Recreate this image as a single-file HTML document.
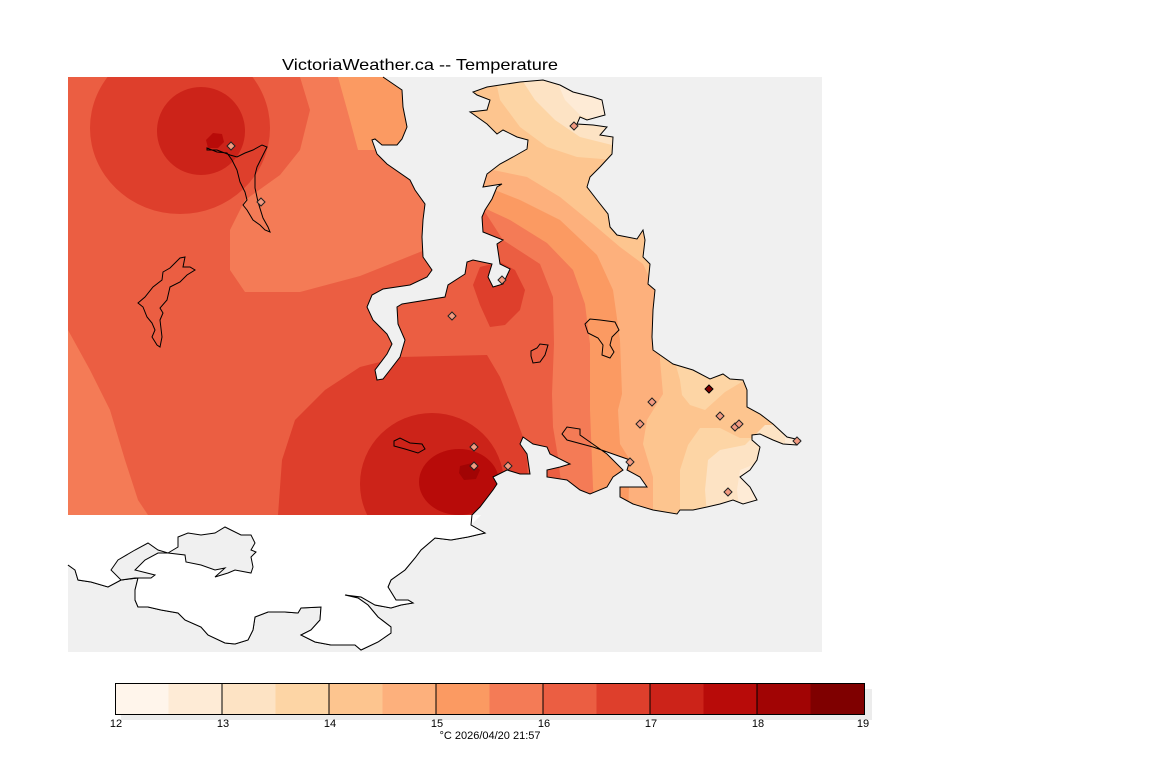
<!DOCTYPE html>
<html><head><meta charset="utf-8"><style>
html,body{margin:0;padding:0;background:#fff;}
svg{display:block;font-family:"Liberation Sans",sans-serif;}
</style></head><body>
<svg width="1152" height="768" viewBox="0 0 1152 768" xmlns="http://www.w3.org/2000/svg">
<defs>
<clipPath id="land"><path d="M68,77 L383,77 402,90 403,107 407,127 402,139 397,145 382,145 375,139 372,140 377,154 387,164 410,180 415,190 425,204 423,220 422,237 423,257 432,270 427,277 410,285 383,289 372,295 367,307 373,320 387,334 392,344 387,354 375,370 377,380 383,379 390,370 400,357 405,340 398,324 397,307 402,304 445,297 448,285 465,274 467,262 473,260 492,264 488,277 493,287 503,284 510,269 500,264 497,244 503,240 483,232 482,217 485,210 492,199 497,187 502,184 483,187 487,174 500,164 513,157 527,149 528,140 517,137 503,130 497,134 487,124 473,114 470,112 487,110 490,100 477,95 473,92 487,87 520,82 543,80 560,85 573,92 593,97 602,100 605,115 587,120 580,117 577,124 593,125 607,127 600,135 613,137 612,154 600,167 590,177 587,187 597,200 608,214 610,227 617,235 637,239 643,230 645,240 643,257 650,264 648,284 655,290 653,310 652,337 653,350 673,364 693,370 710,379 723,374 730,379 743,380 747,390 747,407 760,414 773,424 787,437 800,440 797,445 783,444 773,440 760,434 752,435 752,440 760,447 757,460 750,470 740,477 750,487 757,500 743,504 733,500 720,504 707,507 693,510 680,510 677,514 653,510 633,504 620,497 620,487 647,487 640,477 627,470 630,460 593,447 567,440 562,434 567,427 580,429 580,435 607,454 623,470 613,477 607,487 590,494 580,490 567,480 547,477 547,470 560,467 570,464 550,454 547,447 533,444 523,437 520,444 527,454 530,474 520,474 507,470 493,477 497,484 493,490 480,507 472,515 68,515 Z"/></clipPath>
</defs>
<rect x="68" y="77" width="754" height="575" fill="#f0f0f0"/>
<g clip-path="url(#land)">
<rect x="68" y="77" width="754" height="438" fill="#eb5e42"/>
<!-- west 15.5 -->
<path d="M300,77 L310,110 300,150 280,175 245,200 230,230 230,270 245,292 300,292 360,276 425,250 460,240 460,77 Z" fill="#f47b56"/>
<path d="M338,77 L350,120 358,150 420,150 420,77 Z" fill="#fb9a62"/>
<!-- top-left circles -->
<ellipse cx="180" cy="128" rx="90" ry="86" fill="#de3f2c"/>
<circle cx="201" cy="131" r="44" fill="#cc2319"/>
<path d="M213,133 L222,134 224,142 218,148 208,148 206,140 Z" fill="#b80b09"/>
<!-- bottom-left 15.5 -->
<path d="M68,330 L90,370 110,410 125,460 138,500 148,515 68,515 Z" fill="#f47b56"/>
<!-- bottom blobs -->
<path d="M278,515 L282,460 295,420 325,390 360,367 400,357 487,355 500,377 513,410 523,437 527,460 530,515 Z" fill="#de3f2c"/>
<ellipse cx="432" cy="484" rx="72" ry="71" fill="#cc2319"/>
<ellipse cx="459" cy="482" rx="40" ry="33" fill="#b80b09"/>
<path d="M460,466 L472,463 480,470 476,479 464,480 459,473 Z" fill="#a10404"/>
<!-- saanich blob -->
<path d="M480,267 L500,262 515,270 525,290 520,310 505,325 490,327 480,305 473,285 Z" fill="#de3f2c"/>
<!-- peninsula bands -->
<path d="M460,77 L460,209 483,209 503,240 540,264 553,297 554,344 552,394 553,427 558,457 560,474 565,515 822,515 822,77 Z" fill="#f47b56"/>
<path d="M460,77 L460,205 482,207 510,220 547,243 573,270 585,304 590,344 590,377 590,410 593,487 595,515 822,515 822,77 Z" fill="#fb9a62"/>
<path d="M460,77 L460,185 487,187 520,200 560,220 597,255 613,290 620,340 622,394 618,410 620,444 630,460 628,515 822,515 822,77 Z" fill="#fdb07c"/>
<path d="M460,77 L460,168 493,170 527,177 560,197 593,224 620,247 643,264 660,300 660,360 663,394 647,420 643,444 653,477 653,515 822,515 822,77 Z" fill="#fdc58f"/>
<path d="M495,77 L500,100 520,127 547,147 577,157 615,160 822,160 822,77 Z" fill="#fdd5a5"/>
<path d="M675,362 L745,362 745,380 725,392 705,410 690,405 682,395 680,380 Z" fill="#fdd5a5"/>
<path d="M700,428 L720,428 740,438 822,438 822,515 680,515 680,470 688,445 Z" fill="#fdd5a5"/>
<path d="M520,77 L535,100 555,120 580,137 612,145 822,145 822,77 Z" fill="#fde3c4"/>
<path d="M708,460 L720,450 745,445 765,425 822,425 822,515 707,515 705,490 Z" fill="#fde3c4"/>
<path d="M555,77 L565,100 580,115 605,125 822,125 822,77 Z" fill="#feebd6"/>
<path d="M740,470 L760,462 762,515 740,515 737,490 Z" fill="#feebd6"/>
<path d="M785,432 L822,432 822,450 785,450 Z" fill="#feebd6"/>
</g>
<!-- coastline above -->
<g fill="none" stroke="#000" stroke-width="1">
<polyline points="383,77 402,90 403,107 407,127 402,139 397,145 382,145 375,139 372,140 377,154 387,164 410,180 415,190 425,204 423,220 422,237 423,257 432,270 427,277 410,285 383,289 372,295 367,307 373,320 387,334 392,344 387,354 375,370 377,380 383,379 390,370 400,357 405,340 398,324 397,307 402,304 445,297 448,285 465,274 467,262 473,260 492,264 488,277 493,287 503,284 510,269 500,264 497,244 503,240 483,232 482,217 485,210 492,199 497,187 502,184 483,187 487,174 500,164 513,157 527,149 528,140 517,137 503,130 497,134 487,124 473,114 470,112 487,110 490,100 477,95 473,92 487,87 520,82 543,80 560,85 573,92 593,97 602,100 605,115 587,120 580,117 577,124 593,125 607,127 600,135 613,137 612,154 600,167 590,177 587,187 597,200 608,214 610,227 617,235 637,239 643,230 645,240 643,257 650,264 648,284 655,290 653,310 652,337 653,350 673,364 693,370 710,379 723,374 730,379 743,380 747,390 747,407 760,414 773,424 787,437 800,440 797,445 783,444 773,440 760,434 752,435 752,440 760,447 757,460 750,470 740,477 750,487 757,500 743,504 733,500 720,504 707,507 693,510 680,510 677,514 653,510 633,504 620,497 620,487 647,487 640,477 627,470 630,460 593,447 567,440 562,434 567,427 580,429 580,435 607,454 623,470 613,477 607,487 590,494 580,490 567,480 547,477 547,470 560,467 570,464 550,454 547,447 533,444 523,437 520,444 527,454 530,474 520,474 507,470 493,477 497,484 493,490 480,507 472,515 471,525 485,533 468,537 451,540 435,538 421,550 415,558 405,570 391,580 388,587 396,600 408,600 413,603 401,605 391,608 375,605 361,597 345,595 358,598 368,605 378,617 391,627 391,633 378,642 361,650 355,645 331,645 315,642 301,635 311,630 320,620 321,607 301,608 298,613 285,612 268,612 255,617 253,630 248,640 235,644 225,643 208,635 201,627 185,620 178,613 161,610 148,607 138,607 135,600 135,590 138,578 121,580 108,587 91,582 78,580 75,570 68,565"/>
<!-- lakes -->
<path d="M207,148 L217,152 227,153 232,160 237,170 240,182 245,192 247,200 243,205 247,210 253,220 260,225 265,230 270,232 268,227 263,218 258,202 255,188 255,175 257,167 262,157 267,147 262,145 253,150 245,153 237,157 230,155 217,150 207,150 Z"/>
<path d="M185,257 L180,258 175,263 170,268 163,272 162,280 153,287 145,297 138,303 143,307 147,317 152,323 155,330 152,337 157,345 160,347 162,337 160,320 163,313 160,308 167,300 170,287 180,282 187,275 195,270 190,267 183,267 Z"/>
<path d="M585,324 L590,319 600,320 615,322 619,330 612,337 610,345 614,352 610,358 602,355 603,345 598,338 588,333 Z"/>
<path d="M531,351 L537,348 540,344 548,345 545,355 540,362 533,363 531,356 Z"/>
<path d="M394,441 L400,438 410,443 422,444 425,449 418,453 405,449 394,446 Z"/>
</g>
<!-- white land bottom -->
<path d="M68,515 L481,515 471,525 485,533 468,537 451,540 435,538 421,550 415,558 405,570 391,580 388,587 396,600 408,600 413,603 401,605 391,608 375,605 361,597 345,595 358,598 368,605 378,617 391,627 391,633 378,642 361,650 355,645 331,645 315,642 301,635 311,630 320,620 321,607 301,608 298,613 285,612 268,612 255,617 253,630 248,640 235,644 225,643 208,635 201,627 185,620 178,613 161,610 148,607 138,607 135,600 135,590 138,578 121,580 108,587 91,582 78,580 75,570 68,565 Z" fill="#fff"/>
<polyline fill="none" stroke="#000" points="472,515 471,525 485,533 468,537 451,540 435,538 421,550 415,558 405,570 391,580 388,587 396,600 408,600 413,603 401,605 391,608 375,605 361,597 345,595 358,598 368,605 378,617 391,627 391,633 378,642 361,650 355,645 331,645 315,642 301,635 311,630 320,620 321,607 301,608 298,613 285,612 268,612 255,617 253,630 248,640 235,644 225,643 208,635 201,627 185,620 178,613 161,610 148,607 138,607 135,600 135,590 138,578 121,580 108,587 91,582 78,580 75,570 68,565"/>
<path d="M111,570 L118,560 135,550 148,543 158,550 168,553 178,547 178,537 188,533 201,535 215,533 225,527 231,530 241,535 251,535 255,543 251,550 256,552 251,557 253,567 251,573 235,570 228,573 215,577 225,568 215,570 201,565 186,562 185,555 168,553 158,553 145,560 135,570 155,575 151,578 135,578 121,580 Z" fill="#f0f0f0" stroke="#000"/>
<!-- stations -->
<g stroke="#222" stroke-width="1" fill="#f29a80">
<path d="M574,122 l4,4 -4,4 -4,-4 Z"/>
<path d="M502,276 l4,4 -4,4 -4,-4 Z"/>
<path d="M452,312 l4,4 -4,4 -4,-4 Z"/>
<path d="M652,398 l4,4 -4,4 -4,-4 Z"/>
<path d="M640,420 l4,4 -4,4 -4,-4 Z"/>
<path d="M720,412 l4,4 -4,4 -4,-4 Z"/>
<path d="M735,423 l4,4 -4,4 -4,-4 Z"/>
<path d="M739,420 l4,4 -4,4 -4,-4 Z"/>
<path d="M728,488 l4,4 -4,4 -4,-4 Z"/>
<path d="M474,443 l4,4 -4,4 -4,-4 Z"/>
<path d="M474,462 l4,4 -4,4 -4,-4 Z"/>
<path d="M508,462 l4,4 -4,4 -4,-4 Z"/>
<path d="M630,458 l4,4 -4,4 -4,-4 Z"/>
<path d="M797,437 l4,4 -4,4 -4,-4 Z"/>
<path d="M231,142 l4,4 -4,4 -4,-4 Z"/>
<path d="M261,198 l4,4 -4,4 -4,-4 Z"/>
<path d="M709,385 l4,4 -4,4 -4,-4 Z" fill="#7f0000" stroke="#000"/>
</g>
<!-- title -->
<text x="282" y="70" font-size="16" textLength="276" lengthAdjust="spacingAndGlyphs" fill="#000">VictoriaWeather.ca -- Temperature</text>
<!-- colorbar -->
<rect x="121" y="689" width="751" height="31" fill="#ececec"/>
<g stroke="none">
<rect x="115" y="683" width="54" height="31" fill="#fff5eb"/>
<rect x="168.5" y="683" width="54" height="31" fill="#feebd6"/>
<rect x="222" y="683" width="54" height="31" fill="#fde3c4"/>
<rect x="275.5" y="683" width="54" height="31" fill="#fdd5a5"/>
<rect x="329" y="683" width="54" height="31" fill="#fdc58f"/>
<rect x="382.5" y="683" width="54" height="31" fill="#fdb07c"/>
<rect x="436" y="683" width="54" height="31" fill="#fb9a62"/>
<rect x="489.5" y="683" width="54" height="31" fill="#f47b56"/>
<rect x="543" y="683" width="54" height="31" fill="#eb5e42"/>
<rect x="596.5" y="683" width="54" height="31" fill="#de3f2c"/>
<rect x="650" y="683" width="54" height="31" fill="#cc2319"/>
<rect x="703.5" y="683" width="54" height="31" fill="#b80b09"/>
<rect x="757" y="683" width="54" height="31" fill="#a10404"/>
<rect x="810.5" y="683" width="53.5" height="31" fill="#7f0000"/>
</g>
<rect x="115.5" y="683.5" width="749" height="31" fill="none" stroke="#000"/>
<g stroke="#000">
<line x1="222" y1="683" x2="222" y2="714"/><line x1="329" y1="683" x2="329" y2="714"/>
<line x1="436" y1="683" x2="436" y2="714"/><line x1="543" y1="683" x2="543" y2="714"/>
<line x1="650" y1="683" x2="650" y2="714"/><line x1="757" y1="683" x2="757" y2="714"/>
</g>
<g font-size="11" fill="#000" text-anchor="middle">
<text x="116" y="727">12</text><text x="223" y="727">13</text><text x="330" y="727">14</text>
<text x="437" y="727">15</text><text x="544" y="727">16</text><text x="651" y="727">17</text>
<text x="758" y="727">18</text><text x="863" y="727">19</text>
<text x="490" y="739">°C  2026/04/20 21:57</text>
</g>
</svg>
</body></html>
